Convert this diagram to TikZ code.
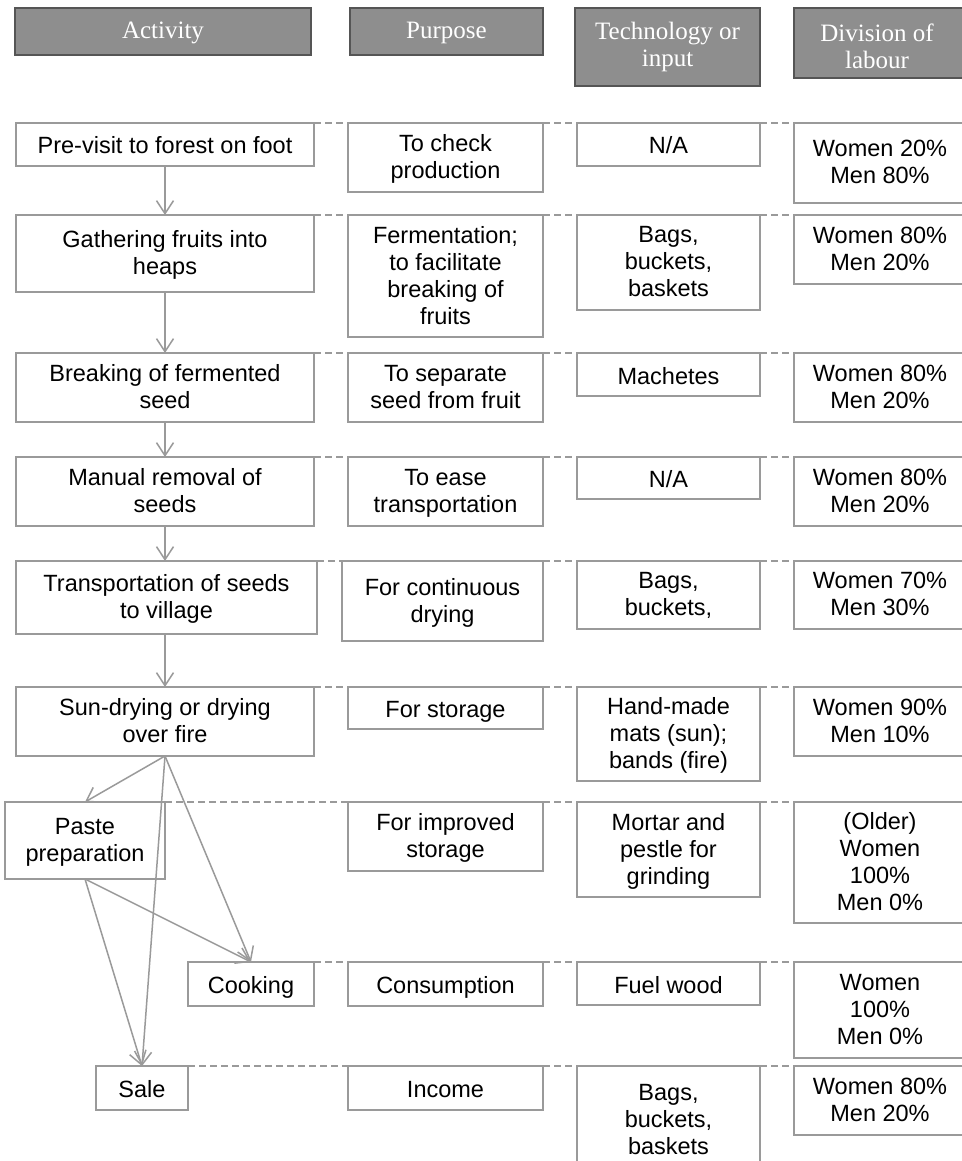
\documentclass[tikz,border=0pt]{standalone}
\usepackage{fontspec}
\setmainfont{Liberation Sans}
\newfontfamily\hdrfont{Liberation Serif}
\usetikzlibrary{arrows.meta}
\definecolor{lg}{HTML}{9A9A9A}
\definecolor{hfill}{HTML}{8E8E8E}
\definecolor{hline}{HTML}{555555}
\setlength{\lineskiplimit}{-50pt}
\setlength{\lineskip}{0pt}
\newcommand\ls{\rule[-6pt]{0pt}{27pt}}
\newcommand\hs{\rule[-6pt]{0pt}{27pt}}
\newcommand\nl{\\\ls}
\newcommand\hnl{\\\hs}
\tikzset{
  cell/.style={draw=lg, line width=1.5pt, fill=white, inner sep=0pt, outer sep=0pt},
  cell text/.style={inner sep=0pt, align=center, text=black, yshift=-2pt,
    font=\fontsize{23.5}{27}\selectfont, execute at begin node=\ls},
  hdr/.style={draw=hline, line width=1.5pt, fill=hfill, inner sep=0pt, outer sep=0pt},
  hdr text/.style={inner sep=0pt, align=center, text=white,
    font=\hdrfont\fontsize{25}{27}\selectfont, execute at begin node=\hs},
  flow/.style={draw=lg, line width=1.5pt, -{Straight Barb[length=13pt,width=17pt,line width=1.5pt]}},
  link/.style={draw=lg, line width=1.5pt, dash pattern=on 7pt off 4pt}
}
% style, text options, name, x1, y1, x2, y2, text
\newcommand\mycell[8]{%
  \node[#1, anchor=north west, minimum width={#6-#4}, minimum height={#7-#5}] (#3) at (#4,-#5) {};
  \begin{scope}
    \clip (#4,-#5) rectangle (#6,{-(#7-8)});
    \node[#1 text, #2] (#3t) at (#3.center) {#8};
  \end{scope}}
\begin{document}
\begin{tikzpicture}[x=1pt,y=1pt]
\useasboundingbox (0,0) rectangle (961,-1161);
\fill[white] (0,0) rectangle (961,-1161);
% headers
\mycell{hdr}{}{h1}{15}{8}{311}{55}{Activity}
\mycell{hdr}{}{h2}{350}{8}{543}{55}{Purpose}
\mycell{hdr}{}{h3}{575}{8}{760}{86}{Technology or\hnl input}
\mycell{hdr}{yshift=-6pt,xshift=-5pt}{h4}{794}{8}{970}{78}{Division of\hnl labour}
% row 1
\mycell{cell}{}{a1}{16}{123}{314}{166}{Pre-visit to forest on foot}
\mycell{cell}{}{p1}{348}{123}{543}{192}{To check\nl production}
\mycell{cell}{}{t1}{577}{123}{760}{166}{N/A}
\mycell{cell}{}{d1}{794}{123}{966}{203}{Women 20\%\nl Men 80\%}
% row 2
\mycell{cell}{}{a2}{16}{215}{314}{292}{Gathering fruits into\nl heaps}
\mycell{cell}{}{p2}{348}{215}{543}{337}{Fermentation;\nl to facilitate\nl breaking of\nl fruits}
\mycell{cell}{}{t2}{577}{215}{760}{310}{Bags,\nl buckets,\nl baskets}
\mycell{cell}{}{d2}{794}{215}{966}{284}{Women 80\%\nl Men 20\%}
% row 3
\mycell{cell}{}{a3}{16}{353}{314}{422}{Breaking of fermented\nl seed}
\mycell{cell}{}{p3}{348}{353}{543}{422}{To separate\nl seed from fruit}
\mycell{cell}{}{t3}{577}{353}{760}{396}{Machetes}
\mycell{cell}{}{d3}{794}{353}{966}{422}{Women 80\%\nl Men 20\%}
% row 4
\mycell{cell}{}{a4}{16}{457}{314}{526}{Manual removal of\nl seeds}
\mycell{cell}{}{p4}{348}{457}{543}{526}{To ease\nl transportation}
\mycell{cell}{}{t4}{577}{457}{760}{499}{N/A}
\mycell{cell}{}{d4}{794}{457}{966}{526}{Women 80\%\nl Men 20\%}
% row 5
\mycell{cell}{}{a5}{16}{561}{317}{634}{Transportation of seeds\nl to village}
\mycell{cell}{}{p5}{342}{561}{543}{641}{For continuous\nl drying}
\mycell{cell}{}{t5}{577}{561}{760}{629}{Bags,\nl buckets,}
\mycell{cell}{}{d5}{794}{561}{966}{629}{Women 70\%\nl Men 30\%}
% row 6
\mycell{cell}{}{a6}{16}{687}{314}{756}{Sun-drying or drying\nl over fire}
\mycell{cell}{}{p6}{348}{687}{543}{729}{For storage}
\mycell{cell}{}{t6}{577}{687}{760}{781}{Hand-made\nl mats (sun);\nl bands (fire)}
\mycell{cell}{}{d6}{794}{687}{966}{756}{Women 90\%\nl Men 10\%}
% row 7
\mycell{cell}{}{a7}{5}{802}{165}{879}{Paste\nl preparation}
\mycell{cell}{}{p7}{348}{802}{543}{871}{For improved\nl storage}
\mycell{cell}{}{t7}{577}{802}{760}{897}{Mortar and\nl pestle for\nl grinding}
\mycell{cell}{}{d7}{794}{802}{966}{923}{(Older)\nl Women\nl 100\%\nl Men 0\%}
% row 8
\mycell{cell}{}{a8}{188}{962}{314}{1006}{Cooking}
\mycell{cell}{}{p8}{348}{962}{543}{1006}{Consumption}
\mycell{cell}{}{t8}{577}{962}{760}{1005}{Fuel wood}
\mycell{cell}{}{d8}{794}{962}{966}{1058}{Women\nl 100\%\nl Men 0\%}
% row 9
\mycell{cell}{}{a9}{96}{1066}{188}{1110}{Sale}
\mycell{cell}{}{p9}{348}{1066}{543}{1110}{Income}
\mycell{cell}{}{t9}{577}{1066}{760}{1175}{Bags,\nl buckets,\nl baskets}
\mycell{cell}{}{d9}{794}{1066}{966}{1135}{Women 80\%\nl Men 20\%}
% dashed row links
\foreach \i in {1,...,9}{
  \draw[link] (a\i.north east) -- (p\i.north west);
  \draw[link] (p\i.north east) -- (t\i.north west);
  \draw[link] (t\i.north east) -- (d\i.north west);
}
% flow arrows
\draw[flow] (a1.south) -- (a2.north);
\draw[flow] (a2.south) -- (a3.north);
\draw[flow] (a3.south) -- (a4.north);
\draw[flow] (a4.south) -- (a4.south |- a5.north);
\draw[flow] (a5.south -| a6.north) -- (a6.north);
\draw[flow] (a6.south) -- (a7.north);
\draw[flow] (a6.south) -- (a9.north);
\draw[flow] (a6.south) -- (a8.north);
\draw[flow] (a7.south) -- (a8.north);
\draw[flow] (a7.south) -- (a9.north);
\end{tikzpicture}
\end{document}
